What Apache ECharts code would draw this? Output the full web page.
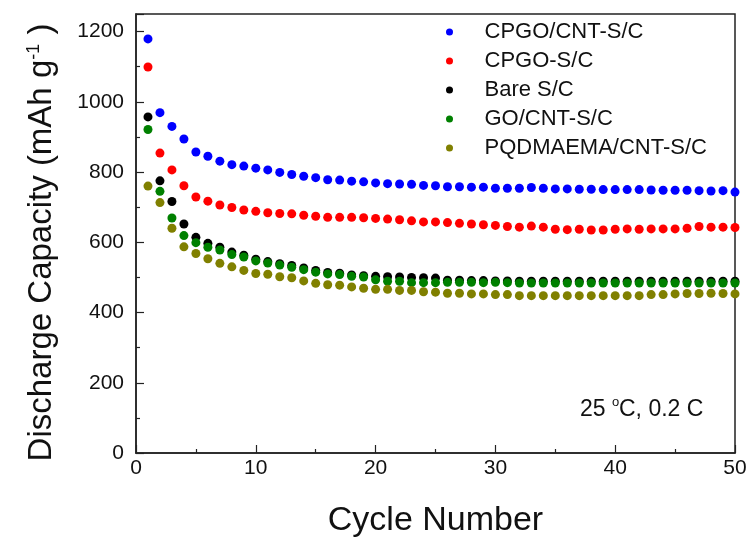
<!DOCTYPE html>
<html>
<head>
<meta charset="utf-8">
<script src="https://cdn.jsdelivr.net/npm/echarts@6/dist/echarts.min.js"></script>
<style>html,body{margin:0;padding:0;background:#fff;}#c{width:753px;height:543px;}</style>
</head>
<body>
<div id="c"></div>
<script>
const cycles = Array.from({length: 50}, (_, i) => i + 1);
const seriesNames = ['CPGO/CNT-S/C', 'CPGO-S/C', 'Bare S/C', 'GO/CNT-S/C', 'PQDMAEMA/CNT-S/C'];
const cpgoCnt = [1179,969,930,894,857,845,831,821,817,811,806,799,793,788,784,778,777,774,772,769,767,766,765,762,761,758,758,757,757,754,754,754,756,754,752,752,751,751,750,750,750,750,749,748,748,748,747,746,747,743];
const cpgo = [1099,854,806,761,729,717,706,699,692,688,684,682,681,677,674,671,671,671,670,668,666,664,661,658,658,656,654,652,650,648,645,643,646,643,637,636,637,635,635,637,638,637,638,638,638,640,645,643,643,642];
const bare = [957,775,716,652,614,597,586,572,563,552,545,539,534,527,520,514,512,507,505,503,502,501,500,499,498,492,492,491,491,490,490,489,489,489,489,489,489,489,489,489,489,489,489,489,489,489,489,489,489,489];
const goCnt = [921,745,669,619,599,586,578,565,558,547,541,535,529,522,515,510,508,503,501,493,489,489,485,485,485,486,486,486,485,486,485,484,484,484,484,484,484,484,484,484,484,484,484,484,484,484,484,484,484,484];
const pqCnt = [760,713,640,587,568,553,540,530,520,511,509,502,499,490,483,479,478,473,469,466,466,463,463,459,458,455,455,453,453,451,451,448,448,448,448,448,448,448,448,448,448,448,451,451,453,454,454,455,454,453];
const allValues = [cpgoCnt, cpgo, bare, goCnt, pqCnt];
const colors = ['#0000ff', '#ff0000', '#000000', '#008000', '#808000'];

const chart = echarts.init(document.getElementById('c'));
const font = 'Arial, "Liberation Sans", sans-serif';
chart.setOption({
  animation: false,
  backgroundColor: '#fff',
  grid: {left: 136, top: 14, right: 18, bottom: 89, show: true, borderColor: '#222', borderWidth: 1.5, backgroundColor: 'transparent'},
  legend: {
    orient: 'vertical', left: 446, top: 21, padding: 0,
    icon: 'circle', itemWidth: 60, itemHeight: 7, itemGap: 7,
    textStyle: {fontFamily: font, fontSize: 22, color: '#111', lineHeight: 22},
    data: seriesNames
  },
  xAxis: {
    type: 'value', min: 0, max: 50, interval: 10,
    name: 'Cycle Number', nameLocation: 'middle', nameGap: 51,
    nameTextStyle: {fontFamily: font, fontSize: 34, color: '#111'},
    axisLine: {show: true, onZero: false, lineStyle: {color: '#222', width: 1.5}},
    axisTick: {show: true, inside: true, length: 8, lineStyle: {color: '#222', width: 1.2}},
    minorTick: {show: true, splitNumber: 2, length: 4, lineStyle: {color: '#222', width: 1.2}},
    axisLabel: {fontFamily: font, fontSize: 21, color: '#111', margin: 5},
    splitLine: {show: false}
  },
  yAxis: {
    type: 'value', min: 0, max: 1250, interval: 200,
    name: 'Discharge Capacity (mAh g{sup|-1} )', nameLocation: 'middle', nameGap: 78,
    nameTextStyle: {fontFamily: font, fontSize: 33, color: '#111', padding: [0, 18, 0, 0],
      rich: {sup: {fontFamily: font, fontSize: 18, color: '#111', verticalAlign: 'top', padding: [0,0,14,0]}}},
    axisLine: {show: true, onZero: false, lineStyle: {color: '#222', width: 1.5}},
    axisTick: {show: true, inside: true, length: 8, lineStyle: {color: '#222', width: 1.2}},
    minorTick: {show: true, splitNumber: 2, length: 4, lineStyle: {color: '#222', width: 1.2}},
    axisLabel: {fontFamily: font, fontSize: 21, color: '#111', margin: 12, showMaxLabel: false,
      formatter: v => (v % 200 === 0 ? String(v) : '')},
    splitLine: {show: false}
  },
  graphic: [
    {type: 'text', left: 580, top: 398, style: {text: '25', font: '23px Arial, "Liberation Sans", sans-serif', fill: '#111'}},
    {type: 'text', left: 612, top: 396, style: {text: 'o', font: '13px Arial, "Liberation Sans", sans-serif', fill: '#111'}},
    {type: 'text', left: 619, top: 398, style: {text: 'C, 0.2 C', font: '23px Arial, "Liberation Sans", sans-serif', fill: '#111'}}
  ],
  series: allValues.map((vals, k) => ({
    name: seriesNames[k], type: 'scatter', symbol: 'circle', symbolSize: 9,
    itemStyle: {color: colors[k], opacity: 1},
    data: cycles.map((c, i) => [c, vals[i]])
  }))
});
</script>
</body>
</html>
